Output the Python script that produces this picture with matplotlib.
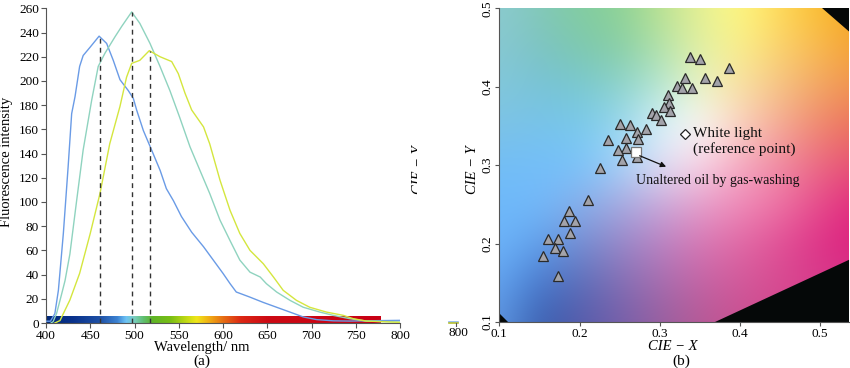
import numpy as np
import matplotlib
matplotlib.use("Agg")
import matplotlib.pyplot as plt
from matplotlib.colors import LinearSegmentedColormap
from matplotlib.patches import Polygon

plt.rcParams['font.family'] = ['Liberation Serif', 'DejaVu Serif']

# ---------------- data: panel (a) spectra ----------------
blue_wl = [400, 405, 410, 414, 419.6, 425, 429, 432.8, 438, 442, 450, 460, 468.5, 476, 483.6, 493,
           498.7, 502.4, 510, 521, 529, 536, 544, 553, 564.6, 578, 589, 600, 608, 615, 630,
           645.5, 660.6, 675.7, 690.7, 705.8, 724.6, 743, 762, 800]
blue_int = [1.5, 1.5, 7.7, 27, 74, 129, 173, 187, 212, 221, 228, 237, 231, 217, 201, 192,
            185.5, 176, 159, 140, 126, 111, 101, 88, 75, 63, 52, 41, 32.5, 25.6, 21.5,
            17, 13, 9, 5, 2.8, 1.8, 1.6, 1.8, 2.2]

teal_wl = [406, 408, 412, 417.7, 421.5, 427, 434.6, 442, 451.6, 459, 466.7, 478, 485.5, 496.8,
           506, 517.5, 528.8, 540, 551, 562.7, 574, 585, 596.6, 608, 619, 630.5, 642, 649,
           660.6, 675.7, 690.7, 709.6, 724.6, 743, 762, 800]
teal_int = [0.3, 1, 8, 24, 35, 57, 101, 143, 184, 212, 223, 236.5, 245, 257,
            247.6, 231, 212, 192, 170, 145.6, 126, 107, 85, 68, 52, 42, 38, 32.5,
            25.6, 18.7, 13, 9, 6.3, 3.6, 1.6, 0.8]

yellow_wl = [410, 415.8, 427, 438, 450, 461, 472, 483.6, 491, 496.8, 506, 516.7, 528.8, 542,
             549.5, 557, 564.6, 578, 585, 596.6, 608, 619, 630.5, 645.5, 657, 668, 683, 698,
             717, 736, 747, 762, 800]
yellow_int = [0, 2, 19, 41, 74, 107, 148, 179, 203, 214.5, 217, 225, 220, 216,
              206, 190, 176, 162, 148, 118, 93, 74, 60, 49, 38, 27, 18.7, 13,
              9, 6.3, 3.6, 1.6, 0.5]

peak_wl = [461, 497, 517]
peak_int = [237, 257, 225]

spec_wl = [400, 430, 460, 480, 490, 500, 510, 520, 540, 560, 570, 585, 600, 620, 650, 778]
spec_rgb = [(0, 40, 120), (10, 50, 140), (30, 80, 165), (60, 130, 210), (110, 195, 245),
            (120, 205, 185), (95, 190, 110), (95, 180, 40), (120, 190, 20), (200, 220, 20),
            (240, 230, 25), (240, 170, 20), (230, 110, 20), (220, 40, 20), (205, 10, 20),
            (200, 0, 20)]

# ---------------- data: panel (b) chromaticity ----------------
cie_x = [0.338, 0.350, 0.387, 0.332, 0.356, 0.372, 0.322, 0.328, 0.340, 0.310,
         0.311, 0.305, 0.313, 0.290, 0.295, 0.302, 0.251, 0.263, 0.283, 0.272,
         0.235, 0.258, 0.273, 0.258, 0.248, 0.253, 0.272, 0.226, 0.210, 0.187,
         0.181, 0.195, 0.188, 0.161, 0.173, 0.170, 0.179, 0.154, 0.173]
cie_y = [0.438, 0.435, 0.424, 0.411, 0.411, 0.407, 0.401, 0.398, 0.399, 0.390,
         0.379, 0.374, 0.369, 0.367, 0.364, 0.358, 0.353, 0.351, 0.346, 0.342,
         0.332, 0.334, 0.333, 0.322, 0.319, 0.306, 0.310, 0.296, 0.255, 0.241,
         0.229, 0.229, 0.213, 0.206, 0.206, 0.194, 0.190, 0.184, 0.159]
unaltered_xy = (0.271, 0.317)
white_xy = (0.332, 0.340)

# background colour grid of the chromaticity diagram (rows y=0.10..0.50, cols x=0.10..0.55)
bg_rows = [
    [(95, 150, 225), (55, 95, 175), (85, 90, 170), (115, 95, 170), (150, 95, 160), (180, 90, 150), (200, 80, 145), (210, 70, 140), (215, 60, 140), (215, 55, 140)],
    [(100, 165, 240), (70, 120, 205), (90, 110, 185), (130, 110, 180), (165, 110, 175), (195, 100, 165), (210, 90, 155), (215, 75, 145), (215, 60, 140), (215, 50, 135)],
    [(110, 180, 250), (95, 160, 235), (115, 140, 210), (150, 135, 200), (185, 130, 195), (215, 120, 180), (225, 105, 165), (225, 80, 150), (222, 50, 135), (220, 30, 125)],
    [(110, 185, 250), (115, 185, 250), (135, 175, 235), (165, 170, 225), (200, 170, 220), (230, 160, 205), (240, 140, 185), (238, 115, 165), (230, 75, 140), (225, 40, 125)],
    [(115, 190, 245), (115, 190, 250), (120, 195, 250), (165, 210, 250), (225, 225, 245), (250, 215, 230), (245, 170, 195), (240, 140, 165), (235, 105, 130), (230, 80, 115)],
    [(125, 195, 230), (120, 195, 235), (120, 200, 235), (150, 215, 240), (215, 240, 250), (252, 252, 252), (250, 210, 195), (245, 170, 150), (240, 135, 110), (235, 110, 90)],
    [(130, 200, 220), (120, 195, 215), (120, 200, 210), (140, 210, 205), (180, 230, 215), (235, 245, 200), (250, 225, 165), (245, 195, 135), (242, 165, 100), (240, 145, 80)],
    [(135, 200, 210), (125, 195, 195), (125, 200, 175), (135, 205, 165), (175, 225, 170), (225, 240, 165), (250, 240, 140), (250, 210, 110), (248, 185, 80), (245, 160, 50)],
    [(140, 203, 208), (130, 200, 185), (130, 205, 160), (140, 210, 150), (185, 225, 145), (230, 240, 150), (255, 250, 130), (255, 218, 90), (250, 190, 50), (245, 165, 30)],
]

fig = plt.figure(figsize=(8.5, 3.68), dpi=100)
W, H = 850.0, 368.0

def fx(px):
    return px / W

def fy(py):
    return 1 - py / H

tick_fs = 9.5
spine_col = '#555555'

# ---------------- panel (a) ----------------
axa = fig.add_axes([fx(46), fy(323), fx(400) - fx(46), fy(8.3) - fy(323)])
axa.set_xlim(400, 800)
axa.set_ylim(0, 260)

cmap = LinearSegmentedColormap.from_list(
    'spec', [((w - spec_wl[0]) / (spec_wl[-1] - spec_wl[0]), tuple(c / 255 for c in rgb))
             for w, rgb in zip(spec_wl, spec_rgb)])
grad = np.linspace(0, 1, 512).reshape(1, -1)
axa.imshow(grad, cmap=cmap, aspect='auto', extent=[spec_wl[0], spec_wl[-1], 0.2, 5.8],
           zorder=1, interpolation='bilinear')

axa.plot(blue_wl, blue_int, color='#6a9be6', lw=1.0, zorder=3)
axa.plot(teal_wl, teal_int, color='#8fd3bf', lw=1.0, zorder=3)
axa.plot(yellow_wl, yellow_int, color='#d4e63e', lw=1.0, zorder=3)
for w, v in zip(peak_wl, peak_int):
    axa.plot([w, w], [0, v], color='#333333', lw=1.0, ls=(0, (3.5, 3)), zorder=4)

axa.set_xticks(np.arange(400, 801, 50))
axa.set_yticks(np.arange(0, 261, 20))
for s in ['top', 'right']:
    axa.spines[s].set_visible(False)
for s in ['left', 'bottom']:
    axa.spines[s].set_color(spine_col)
axa.tick_params(direction='out', length=3.5, width=0.8, color=spine_col,
                labelsize=tick_fs, pad=1.5)
axa.set_facecolor('none')

fig.text(fx(7), fy(162), 'Fluorescence intensity', rotation=90, ha='center', va='center', fontsize=10.5)
fig.text(fx(202), fy(347.5), 'Wavelength/ nm', ha='center', va='center', fontsize=10.5)
fig.text(fx(202), fy(361), '(a)', ha='center', va='center', fontsize=11)

# ---------------- panel (b) ----------------
axb = fig.add_axes([fx(499.3), fy(322), fx(849) - fx(499.3), fy(8.3) - fy(322)])
bg = np.array(bg_rows, dtype=float) / 255.0
axb.imshow(bg, origin='lower', extent=[0.075, 0.575, 0.075, 0.525], aspect='auto',
           interpolation='bicubic', zorder=0)
axb.set_xlim(0.1, 0.536)
axb.set_ylim(0.1, 0.5)
for pts in ([(0.502, 0.5), (0.56, 0.5), (0.56, 0.45)],
            [(0.369, 0.1), (0.56, 0.1), (0.56, 0.1 + 0.191 * 0.473)],
            [(0.09, 0.1216), (0.09, 0.09), (0.111, 0.09), (0.111, 0.1)]):
    axb.add_patch(Polygon(pts, closed=True, facecolor='#050808', edgecolor='none', zorder=1))

axb.plot(cie_x, cie_y, ls='none', marker='^', ms=7.5, mfc='#a3a3aa', mec='#2a2a2a', mew=0.9, zorder=3)
axb.plot([unaltered_xy[0]], [unaltered_xy[1]], ls='none', marker='s', ms=6.5, mfc='white',
         mec='#777777', mew=0.9, zorder=4)
axb.plot([white_xy[0]], [white_xy[1]], ls='none', marker='D', ms=5.5, mfc='white',
         mec='#222222', mew=0.9, zorder=4)
axb.annotate('', xy=(0.308, 0.298), xytext=(0.275, 0.312),
             arrowprops=dict(arrowstyle='-|>', color='#111111', lw=0.9,
                             mutation_scale=8, shrinkA=0, shrinkB=0), zorder=5)
axb.text(0.342, 0.340, 'White light', ha='left', va='center', fontsize=11, color='#111111')
axb.text(0.342, 0.320, '(reference point)', ha='left', va='center', fontsize=11, color='#111111')
axb.text(0.270, 0.281, 'Unaltered oil by gas-washing', ha='left', va='center', fontsize=10,
         color='#111111')

axb.set_xticks([0.1, 0.2, 0.3, 0.4, 0.5])
axb.set_yticks([0.1, 0.2, 0.3, 0.4, 0.5])
axb.set_xticklabels(['0.1', '0.2', '0.3', '0.4', '0.5'])
axb.set_yticklabels(['0.1', '0.2', '0.3', '0.4', '0.5'], rotation=90, va='center')
for s in ['top', 'right']:
    axb.spines[s].set_visible(False)
for s in ['left', 'bottom']:
    axb.spines[s].set_color(spine_col)
axb.tick_params(direction='out', length=3, width=0.8, color=spine_col,
                labelsize=tick_fs, pad=1.5)

fig.text(fx(472), fy(170), 'CIE − Y', rotation=90, ha='center', va='center',
         fontsize=10.5, style='italic')
fig.text(fx(673), fy(347), 'CIE − X', ha='center', va='center', fontsize=10.5, style='italic')
fig.text(fx(681), fy(361), '(b)', ha='center', va='center', fontsize=11)

# stray fragments from the source figure (clipped label and tick label)
axclip = fig.add_axes([fx(400), fy(368), fx(417) - fx(400), 1.0])
axclip.set_axis_off()
axclip.text(fx(419) , fy(170), 'CIE − Y', rotation=90, ha='center', va='center',
            fontsize=10.5, style='italic', transform=fig.transFigure, clip_on=True)
fig.text(fx(458), fy(333), '800', ha='center', va='center', fontsize=tick_fs)
fig.add_artist(plt.Line2D([fx(449), fx(458)], [fy(321.5), fy(321.5)], color='#8ab4f0', lw=1.2))
fig.add_artist(plt.Line2D([fx(449), fx(458)], [fy(323), fy(323)], color='#b8c030', lw=1.2))
fig.add_artist(plt.Line2D([fx(456), fx(456)], [fy(323), fy(326)], color=spine_col, lw=0.8))

fig.savefig('out.png', dpi=100)
